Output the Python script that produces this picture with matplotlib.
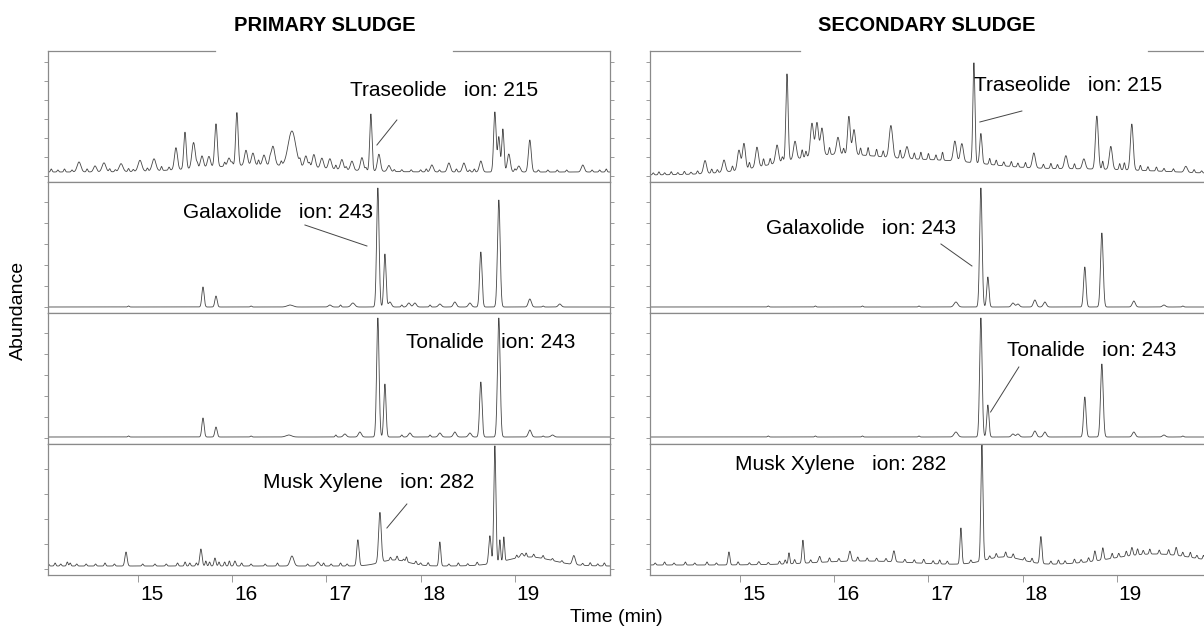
import numpy as np
import matplotlib
matplotlib.use("Agg")
import matplotlib.pyplot as plt
from matplotlib.transforms import ScaledTranslation

plt.rcParams['font.family'] = ['Liberation Sans', 'DejaVu Sans']

# retention time axis (min)
t = np.linspace(14.0, 20.1, 5000)

# peaks: (time, height[, sigma]) ; heights in panel units (panel = 131 units)
prim_trase = [(14.374, 10, .02), (14.544, 6), (14.639, 9, .02), (14.82, 8, .02), (15.021, 11, .02),
              (15.17, 12, .02), (15.403, 22), (15.499, 37, .013), (15.59, 26, .018), (15.679, 12),
              (15.753, 11), (15.828, 43, .014), (15.966, 8), (16.05, 53, .013), (16.146, 15),
              (16.22, 12), (16.337, 10), (16.432, 19, .02), (16.634, 35, .04), (16.782, 11),
              (16.867, 13), (16.952, 10), (17.037, 10), (17.164, 10), (17.271, 9), (17.377, 13),
              (17.472, 57, .012), (17.557, 17), (17.663, 6), (18.119, 7), (18.3, 9), (18.459, 9),
              (18.639, 11), (18.788, 60, .013), (18.83, 35, .012), (18.873, 43, .012), (18.936, 18),
              (19.042, 6), (19.159, 32, .015), (19.721, 7)]
prim_trase_hump = [(16.3, 7, 0.6)]
prim_trase_noise = [(14.08, 3), (14.15, 2), (14.22, 3), (14.30, 2), (14.46, 3), (14.70, 3), (14.76, 2),
                    (14.90, 3), (14.95, 2), (15.10, 3), (15.25, 4), (15.33, 3), (15.63, 4), (15.92, 4),
                    (16.00, 3), (16.28, 5), (16.40, 4), (16.52, 4), (16.72, 5), (16.82, 4), (17.10, 4),
                    (17.21, 3), (17.42, 3), (17.72, 2), (17.80, 2), (17.90, 2), (18.00, 2), (18.06, 3),
                    (18.20, 2), (18.38, 3), (18.52, 2), (18.57, 3), (19.00, 3), (19.25, 2), (19.35, 2),
                    (19.45, 2), (19.55, 2), (19.82, 2), (19.90, 2), (19.97, 3)]

prim_galax = [(15.69, 20, .012), (15.828, 11, .012), (16.613, 2, .03), (17.037, 2), (17.281, 4, .02),
              (17.546, 119, .013), (17.621, 53, .012), (17.674, 5), (17.875, 4), (17.939, 4),
              (18.204, 3), (18.363, 5), (18.523, 4), (18.639, 55, .013), (18.83, 107, .014),
              (19.159, 8), (19.477, 3)]
prim_galax_noise = [(14.9, 1), (16.2, 1), (17.15, 2), (17.8, 2), (18.1, 2), (19.3, 1)]

prim_tonal = [(15.69, 19, .012), (15.828, 10, .012), (16.6, 2, .03), (17.196, 3), (17.355, 5),
              (17.546, 119, .013), (17.621, 53, .012), (17.886, 4), (18.204, 4), (18.363, 5),
              (18.523, 4), (18.639, 55, .013), (18.83, 119, .014), (19.159, 7), (19.4, 2)]
prim_tonal_noise = [(14.9, 1), (16.2, 1), (17.1, 2), (17.8, 2), (18.1, 2), (19.3, 1)]

prim_musk = [(14.873, 14, .012), (15.668, 17, .012), (15.817, 8, .01), (16.029, 5, .01),
             (16.634, 10, .02), (16.91, 4), (17.334, 26, .012), (17.568, 50, .014), (17.85, 5, .008),
             (18.204, 24, .01), (18.735, 28, .012), (18.788, 117, .011), (18.841, 22, .008),
             (18.883, 24, .008), (19.074, 4), (19.626, 9, .015)]
prim_musk_hump = [(17.72, 6, 0.15), (19.15, 9, 0.25)]
prim_musk_noise = [(14.05, 2), (14.12, 3), (14.18, 2), (14.25, 4), (14.28, 3), (14.35, 2), (14.45, 2),
                   (14.55, 2), (14.65, 3), (14.75, 2), (15.05, 2), (15.18, 2), (15.30, 2), (15.42, 3),
                   (15.50, 4), (15.55, 3), (15.62, 3), (15.72, 5), (15.76, 4), (15.86, 4), (15.92, 4),
                   (15.97, 5), (16.1, 3), (16.2, 2), (16.35, 2), (16.48, 3), (16.8, 2), (16.97, 3),
                   (17.05, 2), (17.15, 3), (17.22, 2), (17.68, 3), (17.75, 4), (17.82, 2), (17.95, 3),
                   (18.0, 2), (18.08, 3), (18.3, 2), (18.4, 3), (18.5, 2), (18.6, 3), (19.02, 3),
                   (19.12, 4), (19.2, 3), (19.3, 3), (19.4, 2), (19.5, 2), (19.72, 2), (19.8, 3),
                   (19.88, 2), (19.95, 3)]

sec_trase = [(14.629, 13), (14.83, 12), (14.989, 20), (15.042, 26), (15.18, 20), (15.393, 18),
             (15.499, 87, .012), (15.584, 18), (15.764, 33), (15.817, 33), (15.87, 27), (16.04, 17),
             (16.156, 38, .014), (16.21, 25), (16.602, 32, .018), (16.772, 12), (17.281, 20),
             (17.355, 18), (17.483, 100, .011), (17.557, 30, .012), (18.119, 15), (18.459, 13),
             (18.65, 10), (18.788, 53, .015), (18.936, 23), (19.159, 46, .015), (19.732, 6)]
sec_trase_hump = [(16.0, 20, 0.6), (17.2, 10, 0.5), (18.6, 6, 0.9)]
sec_trase_noise = [(14.08, 2), (14.14, 3), (14.20, 2), (14.27, 3), (14.34, 2), (14.41, 3), (14.48, 2),
                   (14.55, 3), (14.70, 4), (14.76, 3), (14.92, 5), (15.10, 6), (15.25, 7), (15.32, 6),
                   (15.45, 5), (15.66, 8), (15.70, 6), (15.95, 7), (16.10, 6), (16.28, 7), (16.36, 8),
                   (16.45, 7), (16.52, 6), (16.70, 8), (16.85, 6), (16.92, 7), (17.00, 6), (17.08, 5),
                   (17.15, 8), (17.65, 6), (17.72, 5), (17.80, 4), (17.88, 5), (17.95, 4), (18.03, 5),
                   (18.22, 4), (18.30, 5), (18.37, 4), (18.55, 5), (18.85, 8), (19.03, 6), (19.08, 7),
                   (19.25, 5), (19.33, 4), (19.42, 4), (19.50, 3), (19.60, 3), (19.82, 3), (19.90, 2),
                   (19.97, 3)]

sec_galax = [(17.292, 5, .02), (17.557, 119, .013), (17.631, 30, .012), (17.897, 4), (17.95, 3),
             (18.13, 7), (18.236, 5), (18.66, 40, .013), (18.841, 74, .014), (19.18, 6), (19.5, 2)]
sec_galax_noise = [(15.3, 1), (15.8, 1), (16.3, 1), (16.9, 1), (19.7, 1)]

sec_tonal = [(17.292, 5, .02), (17.557, 119, .013), (17.631, 32, .012), (17.897, 3), (17.95, 3),
             (18.13, 6), (18.236, 5), (18.66, 40, .013), (18.841, 73, .014), (19.18, 5), (19.5, 2)]
sec_tonal_noise = [(15.3, 1), (15.8, 1), (16.3, 1), (16.9, 1), (19.7, 1)]

sec_musk = [(14.883, 13, .01), (15.2, 3, .01), (15.52, 6, .008), (15.668, 23, .01), (15.84, 4, .01),
            (16.167, 10, .012), (16.634, 11, .012), (17.345, 36, .01), (17.568, 116, .011),
            (18.194, 27, .011), (18.767, 10, .01), (18.851, 12, .01), (19.16, 8, .01), (19.63, 8, .01)]
sec_musk_hump = [(17.8, 8, 0.2), (19.4, 11, 0.45), (16.3, 4, 0.5)]
sec_musk_noise = [(14.1, 2), (14.2, 3), (14.3, 2), (14.42, 3), (14.52, 2), (14.65, 3), (14.75, 2),
                  (14.98, 3), (15.1, 2), (15.3, 2), (15.42, 3), (15.48, 4), (15.52, 5), (15.58, 4),
                  (15.75, 3), (15.85, 3), (15.95, 4), (16.05, 3), (16.25, 4), (16.35, 3), (16.45, 3),
                  (16.55, 3), (16.75, 3), (16.85, 3), (16.95, 4), (17.05, 3), (17.12, 4), (17.2, 3),
                  (17.45, 3), (17.65, 3), (17.72, 4), (17.82, 5), (17.9, 4), (18.02, 3), (18.1, 4),
                  (18.3, 3), (18.38, 4), (18.45, 3), (18.55, 4), (18.62, 3), (18.7, 4), (18.95, 5),
                  (19.02, 4), (19.1, 5), (19.22, 6), (19.28, 4), (19.35, 5), (19.45, 4), (19.55, 5),
                  (19.7, 4), (19.78, 5), (19.85, 3), (19.92, 4), (19.98, 3)]

labels = ["Traseolide   ion: 215", "Galaxolide   ion: 243", "Tonalide   ion: 243", "Musk Xylene   ion: 282"]
x_ticks = [15, 16, 17, 18, 19]


def gauss_sum(peaks, sigma):
    y = np.zeros_like(t)
    for p in peaks:
        s = p[2] if len(p) > 2 else sigma
        y += p[1] * np.exp(-0.5 * ((t - p[0]) / s) ** 2)
    return y


def trace(peaks, noise, humps, base):
    return base + gauss_sum(peaks, 0.016) + gauss_sum(noise, 0.008) + gauss_sum(humps, 0.5)


columns = [
    dict(title="PRIMARY SLUDGE", x0=48, gap=(215, 453),
         traces=[trace(prim_trase, prim_trase_noise, prim_trase_hump, 10),
                 trace(prim_galax, prim_galax_noise, [], 6),
                 trace(prim_tonal, prim_tonal_noise, [], 7),
                 trace(prim_musk, prim_musk_noise, prim_musk_hump, 9)],
         text=[(17.249, 92), (15.477, 100), (17.843, 101), (16.326, 93)],
         leaders=[((17.748, 17.536), (62, 37)), ((16.772, 17.43), (88, 67)), None,
                  ((17.854, 17.642), (71, 47))]),
    dict(title="SECONDARY SLUDGE", x0=650, gap=(800, 1148),
         traces=[trace(sec_trase, sec_trase_noise, sec_trase_hump, 7),
                 trace(sec_galax, sec_galax_noise, [], 6),
                 trace(sec_tonal, sec_tonal_noise, [], 7),
                 trace(sec_musk, sec_musk_noise, sec_musk_hump, 10)],
         text=[(17.483, 97), (15.276, 85), (17.833, 94), (14.947, 110)],
         leaders=[((17.992, 17.546), (71, 60)), ((17.133, 17.462), (69, 47)),
                  ((17.96, 17.66), (77, 32)), None]),
]

W, H = 1204, 627
fig = plt.figure(figsize=(W / 100, H / 100), dpi=100)

panel_top = [51, 182, 313, 444]
panel_h = 131
panel_w = 562
tick_step = [19, 21, 21, 25]
frame_col = '#8a8a8a'
line_col = '#454545'

for col in columns:
    for i in range(4):
        ax = fig.add_axes([col['x0'] / W, 1 - (panel_top[i] + panel_h) / H, panel_w / W, panel_h / H])
        ax.plot(t, col['traces'][i], color=line_col, lw=0.6)
        ax.set_xlim(14.045, 20.01)
        ax.set_ylim(0, panel_h)
        for s in ax.spines.values():
            s.set_color(frame_col)
            s.set_linewidth(0.9)
        ax.set_yticks(np.arange(6, panel_h - 5, tick_step[i]))
        ax.tick_params(axis='y', left=True, right=True, labelleft=False, direction='out',
                       length=3, width=0.6, color=frame_col)
        if i < 3:
            ax.tick_params(axis='x', bottom=False, labelbottom=False)
        else:
            ax.set_xticks(x_ticks)
            ax.set_xticklabels([str(v) for v in x_ticks])
            ax.tick_params(axis='x', direction='out', length=5, width=0.6, color=frame_col,
                           labelsize=15, pad=2)
            for lab in ax.get_xticklabels():
                lab.set_horizontalalignment('left')
                lab.set_transform(lab.get_transform() + ScaledTranslation(2 / 100, 0, fig.dpi_scale_trans))
        if i == 0:
            ax.spines['top'].set_visible(False)
            g0 = (col['gap'][0] - col['x0']) / panel_w
            g1 = (col['gap'][1] - col['x0']) / panel_w
            ax.plot([0, g0], [1, 1], transform=ax.transAxes, color=frame_col, lw=0.9, clip_on=False)
            ax.plot([g1, 1], [1, 1], transform=ax.transAxes, color=frame_col, lw=0.9, clip_on=False)
            ax.text(0.492, 1 + 26 / panel_h, col['title'], transform=ax.transAxes, ha='center',
                    va='center', fontsize=14.5, fontweight='bold')
        tx, ty = col['text'][i]
        ax.text(tx, ty, labels[i], ha='left', va='center', fontsize=15)
        if col['leaders'][i] is not None:
            lx, ly = col['leaders'][i]
            ax.plot(lx, ly, color=line_col, lw=0.7)

fig.text(18 / W, 1 - 310 / H, "Abundance", rotation=90, ha='center', va='center', fontsize=14)
fig.text(616 / W, 1 - 617 / H, "Time (min)", ha='center', va='center', fontsize=14)

fig.savefig("out.png", dpi=100)
